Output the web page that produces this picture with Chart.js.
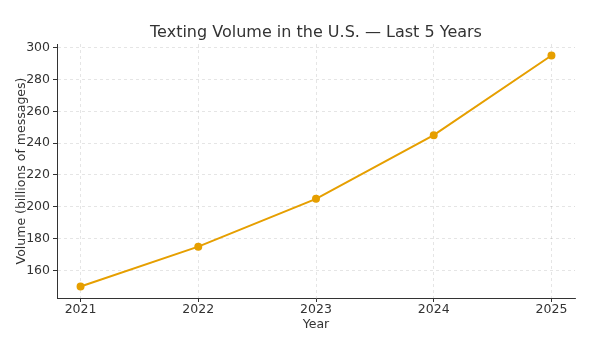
<!DOCTYPE html>
<html>
<head>
<meta charset="utf-8">
<script src="https://cdn.jsdelivr.net/npm/chart.js@4/dist/chart.umd.min.js"></script>
<style>
  html, body { margin: 0; padding: 0; background: #fff; }
</style>
</head>
<body>
<canvas id="chart" width="611" height="341"></canvas>
<script>
// Данные графика
const years = [2021, 2022, 2023, 2024, 2025];
const volume = [150, 175, 205, 245, 295];
const yTicks = [160, 180, 200, 220, 240, 260, 280, 300];
const titleText = 'Texting Volume in the U.S. — Last 5 Years';

const font = 'DejaVu Sans';
const gridStyle = {
    color: 'rgba(0,0,0,0.13)',
    lineWidth: 0.8,
    tickColor: '#333',
    tickLength: 4,
    tickWidth: 1
};

// Заголовок по центру области графика
const centeredTitle = {
    id: 'centeredTitle',
    afterDraw(c) {
        const a = c.chartArea;
        const g = c.ctx;
        g.save();
        g.font = '16px "' + font + '"';
        g.fillStyle = '#333';
        g.textAlign = 'center';
        g.textBaseline = 'middle';
        g.fillText(titleText, (a.left + a.right) / 2, 32.5);
        g.restore();
    }
};

const ctx = document.getElementById('chart').getContext('2d');
const chart = new Chart(ctx, {
    type: 'line',
    data: {
        datasets: [{
            label: 'Volume',
            data: years.map((y, i) => ({ x: y, y: volume[i] })),
            borderColor: '#E69F00',
            backgroundColor: '#E69F00',
            borderWidth: 2,
            pointRadius: 3,
            pointHoverRadius: 3,
            fill: false,
            tension: 0
        }]
    },
    options: {
        responsive: false,
        animation: false,
        layout: { padding: { left: 0, right: 36, top: 44, bottom: 0 } },
        plugins: {
            legend: { display: false },
            tooltip: { enabled: false },
            title: { display: false }
        },
        scales: {
            x: {
                type: 'linear',
                min: 2020.8,
                max: 2025.2,
                afterBuildTicks: s => { s.ticks = years.map(v => ({ value: v })); },
                afterFit: s => { s.height = 43; },
                ticks: {
                    color: '#333',
                    font: { family: font, size: 12.5 },
                    padding: 0,
                    callback: v => String(v)
                },
                grid: gridStyle,
                border: { color: '#333', width: 1, dash: [3, 3] },
                title: {
                    display: true,
                    text: 'Year',
                    color: '#333',
                    font: { family: font, size: 12.5 },
                    padding: { top: 0, bottom: 9 }
                }
            },
            y: {
                min: 142.75,
                max: 302.25,
                afterBuildTicks: s => { s.ticks = yTicks.map(v => ({ value: v })); },
                afterFit: s => { s.width = 57; },
                ticks: {
                    color: '#333',
                    font: { family: font, size: 12.5 },
                    padding: 3
                },
                grid: gridStyle,
                border: { color: '#333', width: 1, dash: [3, 3] },
                title: {
                    display: true,
                    text: 'Volume (billions of messages)',
                    color: '#333',
                    font: { family: font, size: 12.5 },
                    padding: { top: 14, bottom: 0 }
                }
            }
        }
    },
    plugins: [centeredTitle]
});
</script>
</body>
</html>
